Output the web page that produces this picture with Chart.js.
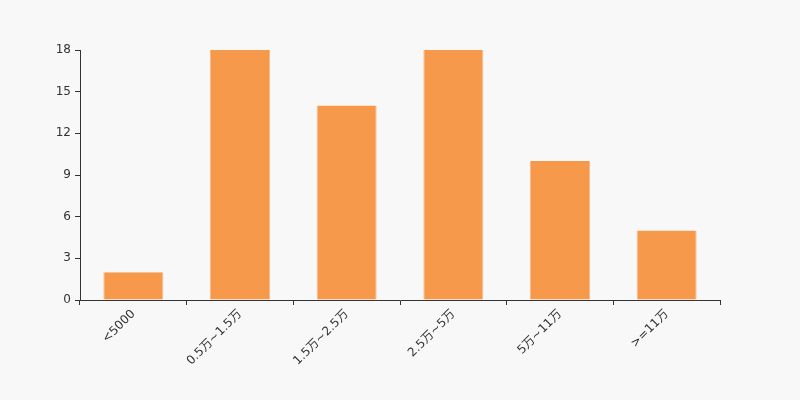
<!DOCTYPE html>
<html>
<head>
<meta charset="utf-8">
<script src="https://cdn.jsdelivr.net/npm/chart.js@4/dist/chart.umd.min.js"></script>
<style>
html,body{margin:0;padding:0;background:#f8f8f8;}
#wrap{width:800px;height:400px;}
</style>
</head>
<body>
<div id="wrap"><canvas id="c" width="800" height="400"></canvas></div>
<script>
const categories = ["<5000", "0.5万~1.5万", "1.5万~2.5万", "2.5万~5万", "5万~11万", ">=11万"];
const counts = [2, 18, 14, 18, 10, 5];
const yTicks = [0, 3, 6, 9, 12, 15, 18];

const bg = {
  id: 'bg',
  beforeDraw(chart) {
    const ctx = chart.ctx;
    ctx.save();
    ctx.fillStyle = '#f8f8f8';
    ctx.fillRect(0, 0, chart.width, chart.height);
    ctx.restore();
  }
};

new Chart(document.getElementById('c'), {
  type: 'bar',
  data: {
    labels: categories,
    datasets: [{
      data: counts,
      backgroundColor: '#f7994a',
      borderColor: '#f9b987',
      borderWidth: {left: 1, right: 1, top: 0, bottom: 0},
      categoryPercentage: 1,
      barPercentage: 0.5625
    }]
  },
  options: {
    responsive: false,
    animation: false,
    layout: { padding: { left: 0, right: 80, top: 50, bottom: 0 } },
    plugins: { legend: { display: false }, tooltip: { enabled: false } },
    scales: {
      x: {
        grid: { display: true, drawOnChartArea: false, drawTicks: true, tickLength: 5, color: '#333', offset: true },
        border: { display: true, color: '#333', width: 1 },
        ticks: {
          color: '#333',
          font: { family: 'DejaVu Sans, Noto Sans CJK SC', size: 12 },
          maxRotation: 45, minRotation: 45, padding: 2
        },
        afterFit(s) { s.height = 100; }
      },
      y: {
        min: 0, max: 18,
        afterBuildTicks(s) { s.ticks = yTicks.map(v => ({ value: v })); },
        grid: { display: true, drawOnChartArea: false, drawTicks: true, tickLength: 5, color: '#333' },
        border: { display: true, color: '#333', width: 1 },
        ticks: {
          color: '#333',
          font: { family: 'DejaVu Sans, Noto Sans CJK SC', size: 12 },
          padding: 4
        },
        afterFit(s) { s.width = 80; }
      }
    }
  },
  plugins: [bg]
});
</script>
</body>
</html>
